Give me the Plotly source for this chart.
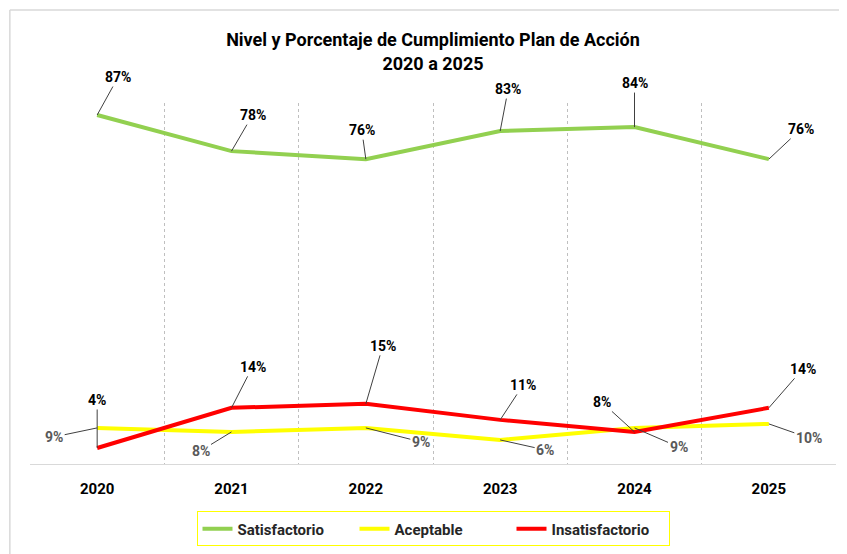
import plotly.graph_objects as go

years = ["2020", "2021", "2022", "2023", "2024", "2025"]
satisfactorio = [87, 78, 76, 83, 84, 76]
aceptable = [9, 8, 9, 6, 9, 10]
insatisfactorio = [4, 14, 15, 11, 8, 14]

FONT = "Roboto, Liberation Sans, sans-serif"

fig = go.Figure()
fig.add_trace(go.Scatter(x=years, y=satisfactorio, name="Satisfactorio", mode="lines",
                         line=dict(color="#92D050", width=4)))
fig.add_trace(go.Scatter(x=years, y=aceptable, name="Aceptable", mode="lines",
                         line=dict(color="#FFFF00", width=4)))
fig.add_trace(go.Scatter(x=years, y=insatisfactorio, name="Insatisfactorio", mode="lines",
                         line=dict(color="#FF0000", width=4)))

# label offsets (pixels) for each series
off_s = [(21, -38), (21, -36), (-4, -29), (8, -42), (0, -44), (32, -30)]
off_a = [(-43, 9), (-31, 19), (55, 14), (45, 10), (44, 19), (40, 14)]
off_i = [(0, -48), (21, -41), (17, -58), (23, -35), (-33, -30), (34, -39)]

for vals, offs, col in [(satisfactorio, off_s, "#000000"),
                        (aceptable, off_a, "#595959"),
                        (insatisfactorio, off_i, "#000000")]:
    for i, (v, (dx, dy)) in enumerate(zip(vals, offs)):
        fig.add_annotation(x=i, y=v, xref="x", yref="y", text=f"<b>{v}%</b>",
                           showarrow=True, arrowhead=0, arrowwidth=1, arrowcolor="#404040",
                           ax=dx, ay=dy, font=dict(family=FONT, size=14, color=col))

fig.update_layout(
    width=839, height=546,
    margin=dict(l=22, r=11, t=95, b=90, autoexpand=False),
    paper_bgcolor="white", plot_bgcolor="white",
    title=dict(text="<b>Nivel y Porcentaje de Cumplimiento Plan de Acción<br>2020 a 2025</b>",
               x=0.5, xref="paper", xanchor="center", y=0.93, yanchor="middle",
               font=dict(family=FONT, size=18, color="#000000")),
    xaxis=dict(type="category", range=[-0.5, 5.5], tickson="boundaries",
               showgrid=True, gridcolor="#BFBFBF", griddash="dot", gridwidth=1,
               showline=True, linecolor="#D9D9D9", linewidth=1, ticks="",
               tickfont=dict(family=FONT, size=15, color="#000000"),
               tickprefix="<b>", ticksuffix="</b>", ticklabelstandoff=11,
               zeroline=False, automargin=False),
    yaxis=dict(range=[0, 90], visible=False, showgrid=False, zeroline=False),
    showlegend=True,
    legend=dict(orientation="h", x=0.5, xanchor="center", y=-0.18, yanchor="middle",
                bordercolor="#FFFF00", borderwidth=1, bgcolor="white",
                font=dict(family=FONT, size=15, color="#262626", weight="bold"),
                entrywidth=112),
    shapes=[
        dict(type="line", xref="paper", yref="paper", x0=-0.025, x1=1.02, y0=1.2576, y1=1.2576,
             line=dict(color="#D9D9D9", width=1.5)),
        dict(type="line", xref="paper", yref="paper", x0=-0.025, x1=-0.025, y0=1.2576, y1=-0.3,
             line=dict(color="#D9D9D9", width=1.5)),
    ],
)

fig.write_html("out.html")
